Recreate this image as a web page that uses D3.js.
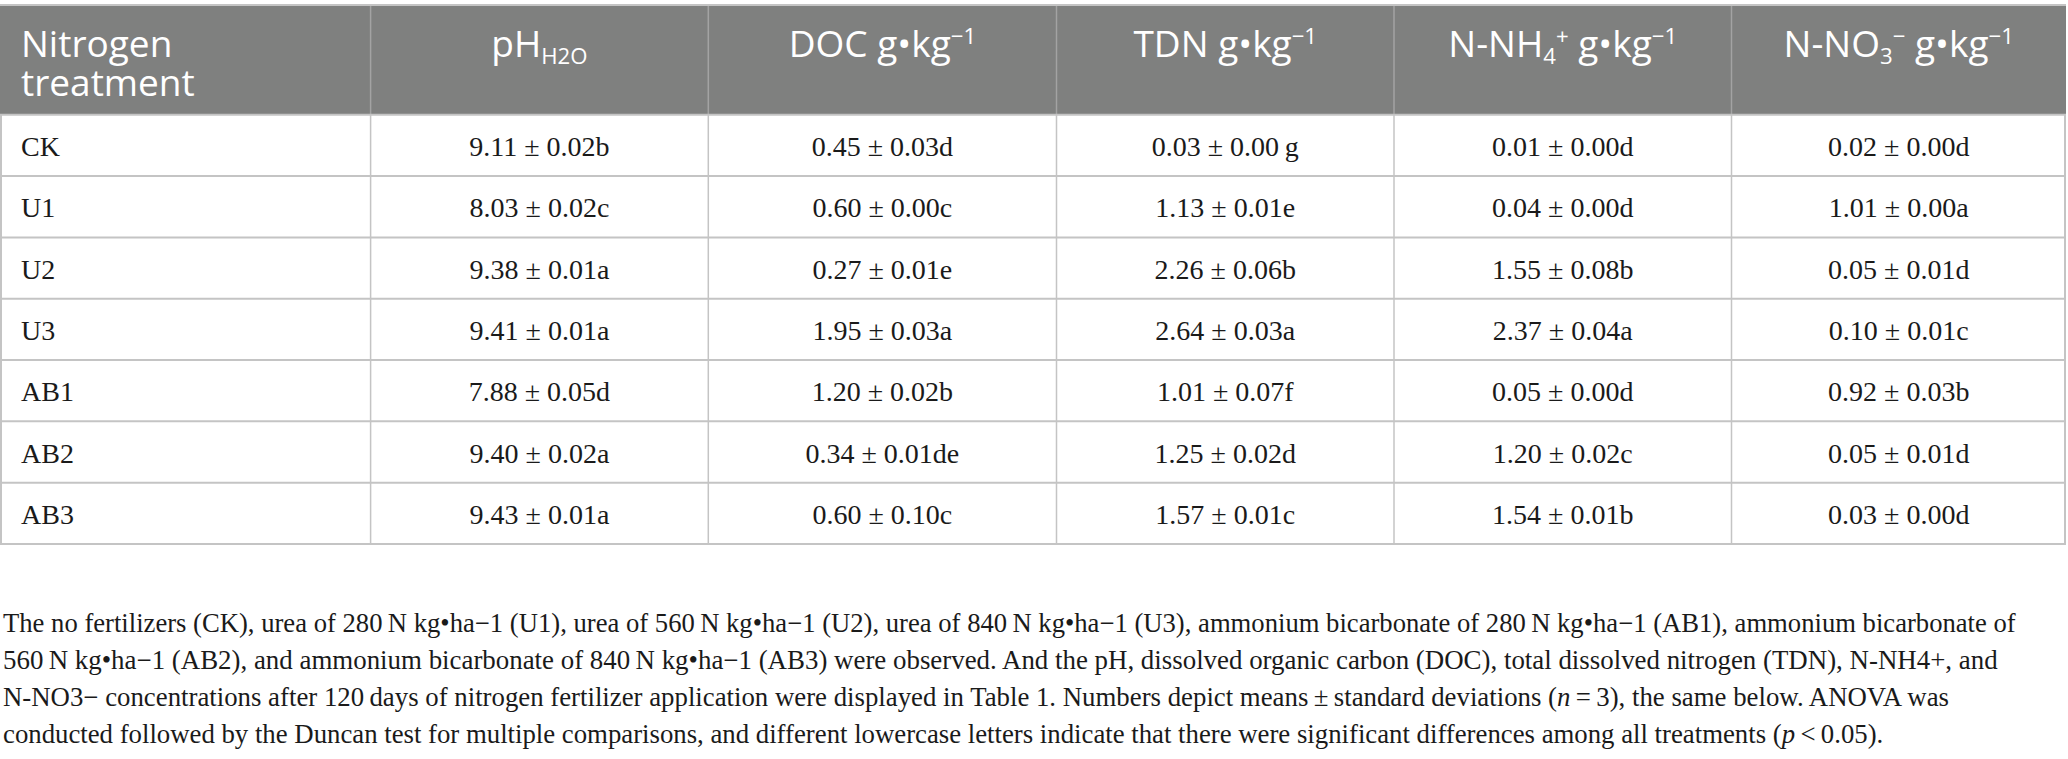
<!DOCTYPE html>
<html><head><meta charset="utf-8">
<script src="https://cdn.jsdelivr.net/npm/d3@7"></script>
<style>
html,body{margin:0;padding:0;background:#fff;}
svg{display:block;}
</style></head>
<body>
<svg id="chart" width="2068" height="759"></svg>
<script>
// ---- data ----
const treatments = ["CK","U1","U2","U3","AB1","AB2","AB3"];
const phMean   = [9.11, 8.03, 9.38, 9.41, 7.88, 9.40, 9.43];
const phSD     = [0.02, 0.02, 0.01, 0.01, 0.05, 0.02, 0.01];
const phLetter = ["b","c","a","a","d","a","a"];
const docMean   = [0.45, 0.60, 0.27, 1.95, 1.20, 0.34, 0.60];
const docSD     = [0.03, 0.00, 0.01, 0.03, 0.02, 0.01, 0.10];
const docLetter = ["d","c","e","a","b","de","c"];
const tdnMean   = [0.03, 1.13, 2.26, 2.64, 1.01, 1.25, 1.57];
const tdnSD     = [0.00, 0.01, 0.06, 0.03, 0.07, 0.02, 0.01];
const tdnLetter = ["\u2009g","e","b","a","f","d","c"];
const nh4Mean   = [0.01, 0.04, 1.55, 2.37, 0.05, 1.20, 1.54];
const nh4SD     = [0.00, 0.00, 0.08, 0.04, 0.00, 0.02, 0.01];
const nh4Letter = ["d","d","b","a","d","c","b"];
const no3Mean   = [0.02, 1.01, 0.05, 0.10, 0.92, 0.05, 0.03];
const no3SD     = [0.00, 0.00, 0.01, 0.01, 0.03, 0.01, 0.00];
const no3Letter = ["d","a","d","c","b","d","d"];

const headers = [
  [[{t:"Nitrogen"}],[{t:"treatment"}]],
  [[{t:"pH"},{t:"H2O",s:"sub"}]],
  [[{t:"DOC g\u2022kg"},{t:"\u22121",s:"sup"}]],
  [[{t:"TDN g\u2022kg"},{t:"\u22121",s:"sup"}]],
  [[{t:"N-NH"},{t:"4",s:"sub"},{t:"+",s:"sup"},{t:" g\u2022kg"},{t:"\u22121",s:"sup"}]],
  [[{t:"N-NO"},{t:"3",s:"sub"},{t:"\u2212",s:"sup"},{t:" g\u2022kg"},{t:"\u22121",s:"sup"}]]
];

const captionLines = [
  [{t:"The no fertilizers (CK), urea of 280\u2009N kg\u2022ha\u22121 (U1), urea of 560\u2009N kg\u2022ha\u22121 (U2), urea of 840\u2009N kg\u2022ha\u22121 (U3), ammonium bicarbonate of 280\u2009N kg\u2022ha\u22121 (AB1), ammonium bicarbonate of"}],
  [{t:"560\u2009N kg\u2022ha\u22121 (AB2), and ammonium bicarbonate of 840\u2009N kg\u2022ha\u22121 (AB3) were observed. And the pH, dissolved organic carbon (DOC), total dissolved nitrogen (TDN), N-NH4+, and"}],
  [{t:"N-NO3\u2212 concentrations after 120\u2009days of nitrogen fertilizer application were displayed in Table 1. Numbers depict means\u2009\u00b1\u2009standard deviations ("},{t:"n",i:true},{t:"\u2009=\u20093), the same below. ANOVA was"}],
  [{t:"conducted followed by the Duncan test for multiple comparisons, and different lowercase letters indicate that there were significant differences among all treatments ("},{t:"p",i:true},{t:"\u2009<\u20090.05)."}]
];

// ---- layout ----
const colEdges = [0, 370.6, 708.3, 1056.5, 1394, 1731.5, 2066];
const tableTop = 5, headerBottom = 114.8, tableBottom = 544;
const lineCol = "#c4c4c4";
const headFill = "#7f807f";

const svg = d3.select("#chart");
const fmt = d3.format(".2f");

const y = d3.scaleBand().domain(treatments).range([headerBottom, tableBottom]).paddingInner(0).paddingOuter(0);
const x = d3.scaleOrdinal().domain(d3.range(6)).range(colEdges.slice(0,6));
const colW = i => colEdges[i+1]-colEdges[i];

// header background
svg.append("rect").attr("x",0).attr("y",tableTop).attr("width",colEdges[6]).attr("height",headerBottom-tableTop).attr("fill",headFill);

// header vertical separators
svg.selectAll("line.hv").data(d3.range(1,6)).join("line").attr("class","hv")
  .attr("x1",i=>x(i)).attr("x2",i=>x(i)).attr("y1",tableTop).attr("y2",headerBottom)
  .attr("stroke","#a3a3a3").attr("stroke-width",1.5);

function rich(textSel, segs, baseSize){
  let cur = 0;
  segs.forEach(sg=>{
    const ts = textSel.append("tspan").text(sg.t);
    let target = 0, fs = baseSize;
    if(sg.s==="sub"){ target = baseSize*0.18; fs = baseSize*0.6; }
    if(sg.s==="sup"){ target = -baseSize*0.36; fs = baseSize*0.6; }
    ts.attr("dy", target-cur).attr("font-size",fs);
    if(sg.i) ts.attr("font-style","italic");
    cur = target;
  });
}

const headSize = 37;
headers.forEach((lines,ci)=>{
  const cx = ci===0 ? 21 : x(ci)+colW(ci)/2;
  const t = svg.append("text")
    .attr("x", cx).attr("y", 57)
    .attr("text-anchor", ci===0 ? "start":"middle")
    .attr("font-family","'Open Sans', sans-serif")
    .attr("font-size",headSize)
    .attr("fill","#fff");
  lines.forEach((segs,li)=>{
    if(li===0){ rich(t, segs, headSize); }
    else {
      t.append("tspan").attr("x",cx).attr("dy",39).text(segs.map(s=>s.t).join(""));
    }
  });
});

// body cells
const cols = [
  {m:phMean, s:phSD, l:phLetter},
  {m:docMean, s:docSD, l:docLetter},
  {m:tdnMean, s:tdnSD, l:tdnLetter},
  {m:nh4Mean, s:nh4SD, l:nh4Letter},
  {m:no3Mean, s:no3SD, l:no3Letter}
];
const bodyFont = "'Liberation Serif', 'Times New Roman', serif";
const bodySize = 28;
const rowG = svg.selectAll("g.row").data(treatments).join("g").attr("class","row")
  .attr("transform", d=>`translate(0,${y(d)+y.bandwidth()/2})`);
rowG.append("text").attr("x",21).attr("y",10.5)
  .attr("font-family",bodyFont).attr("font-size",bodySize).attr("fill","#1a1a1a").text(d=>d);
cols.forEach((c,ci)=>{
  rowG.append("text")
    .attr("x", x(ci+1)+colW(ci+1)/2).attr("y",10.5)
    .attr("text-anchor","middle")
    .attr("font-family",bodyFont).attr("font-size",bodySize).attr("fill","#1a1a1a")
    .text((d,i)=>`${fmt(c.m[i])} \u00b1 ${fmt(c.s[i])}${c.l[i]}`);
});

// body grid lines
const hLines = treatments.map(d=>y(d)+y.bandwidth()).concat([headerBottom]);
svg.selectAll("line.h").data(hLines).join("line").attr("class","h")
  .attr("x1",0).attr("x2",colEdges[6]).attr("y1",d=>d).attr("y2",d=>d)
  .attr("stroke",lineCol).attr("stroke-width",2);
svg.selectAll("line.v").data(colEdges).join("line").attr("class","v")
  .attr("x1",d=>d===0?1:(d===colEdges[6]?d-1:d)).attr("x2",d=>d===0?1:(d===colEdges[6]?d-1:d))
  .attr("y1",headerBottom).attr("y2",tableBottom)
  .attr("stroke",lineCol).attr("stroke-width",d=>(d===0||d===colEdges[6])?2:1.5);
// top border
svg.append("line").attr("x1",0).attr("x2",colEdges[6]).attr("y1",tableTop).attr("y2",tableTop)
  .attr("stroke",lineCol).attr("stroke-width",2);

// caption (each line scaled horizontally to the reference line width)
const capWidths = [2014, 1995, 1947, 1881];
captionLines.forEach((segs,li)=>{
  const g = svg.append("g");
  const t = g.append("text")
    .attr("x",0).attr("y",0)
    .attr("font-family",bodyFont).attr("font-size",27).attr("fill","#1a1a1a");
  segs.forEach(sg=>{
    const ts = t.append("tspan").text(sg.t);
    if(sg.i) ts.attr("font-style","italic");
  });
  const w = t.node().getComputedTextLength();
  g.attr("transform",`translate(3,${632 + li*37}) scale(${capWidths[li]/w},1)`);
});
</script>
</body></html>
